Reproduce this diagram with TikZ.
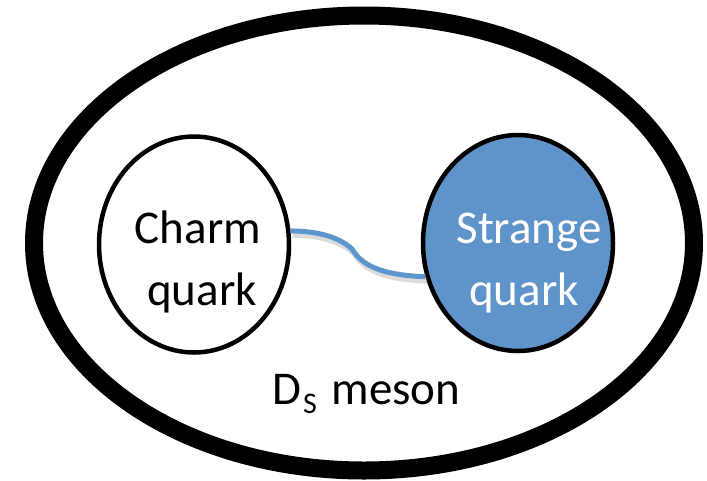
\documentclass[tikz,border=0pt]{standalone}
\usepackage{fontspec}
\setmainfont{Carlito}
\usetikzlibrary{shapes.geometric}
\definecolor{sblue}{RGB}{94,148,202}
\definecolor{lblue}{RGB}{92,150,205}
\begin{document}
\begin{tikzpicture}[x=1pt,y=-1pt,
  quark/.style={draw=black, line width=4.5pt, ellipse, minimum width=190pt, minimum height=216pt, inner sep=0pt},
  lbl/.style={font=\fontsize{47}{56}\selectfont, inner sep=0pt, anchor=base},
  conn/.style={draw=lblue, line width=5pt},
  connshadow/.style={draw=black!40, line width=6pt, opacity=0.35}]
\useasboundingbox (0,0) rectangle (707,480);
\fill[white] (0,0) rectangle (707,480);
\node[draw, line width=18pt, ellipse, minimum width=660pt, minimum height=455pt, inner sep=0pt] (meson) at (364,243) {};
\node[quark] (charm) at (194,244.5) {};
\node[quark, fill=sblue] (strange) at (518,243) {};
\draw[connshadow, transform canvas={xshift=2pt, yshift=-4pt}] (charm.8) .. controls (320,231) and (340,238) .. (352,249) .. controls (360,262) and (375,275) .. (strange.200);
\draw[conn] (charm.8) .. controls (320,231) and (340,238) .. (352,249) .. controls (360,262) and (375,275) .. (strange.200);
\node[lbl] (charm1) at (198,243) {Charm};
\node[lbl] (charm2) at (202,305) {quark};
\node[lbl, text=white] (str1) at (529,243) {Strange};
\node[lbl, text=white] (str2) at (524,305) {quark};
\node[lbl, anchor=base west] (ds) at (272,404) {D\kern2pt\raisebox{-9pt}{\fontsize{30}{30}\selectfont S}\hspace{4pt} meson};
\end{tikzpicture}
\end{document}
